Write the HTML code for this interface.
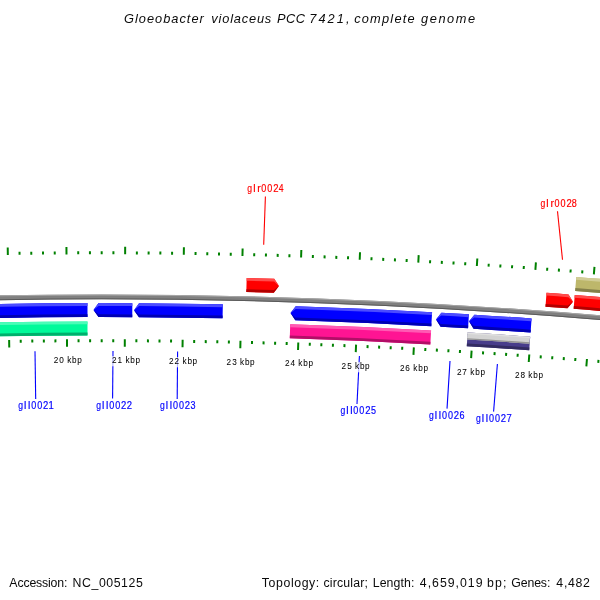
<!DOCTYPE html>
<html><head><meta charset="utf-8"><title>Gloeobacter violaceus PCC 7421</title>
<style>
html,body{margin:0;padding:0;background:#ffffff;}
body{width:600px;height:600px;overflow:hidden;font-family:"Liberation Sans",sans-serif;}
svg{display:block;font-family:"Liberation Sans",sans-serif;will-change:transform;}
</style></head><body>
<svg width="600" height="600" viewBox="0 0 600 600">
<rect x="0" y="0" width="600" height="600" fill="#ffffff"/>
<path d="M -20.05 295.73 A 6014.50 6014.50 0 0 1 620.21 316.91 L 619.79 321.69 A 6009.70 6009.70 0 0 0 -19.95 300.53 Z" fill="#808080"/>
<path d="M -20.05 295.73 A 6014.50 6014.50 0 0 1 620.21 316.91 L 620.12 317.87 A 6013.54 6013.54 0 0 0 -20.03 296.69 Z" fill="#a6a6a6"/>
<path d="M -19.97 299.57 A 6010.66 6010.66 0 0 1 619.88 320.73 L 619.79 321.69 A 6009.70 6009.70 0 0 0 -19.95 300.53 Z" fill="#5a5a5a"/>
<path d="M -20.14 304.33 A 6005.90 6005.90 0 0 1 87.48 303.12 L 87.52 317.12 A 5991.90 5991.90 0 0 0 -19.86 318.33 Z" fill="#0000ff"/>
<path d="M -20.14 304.33 A 6005.90 6005.90 0 0 1 87.48 303.12 L 87.49 305.92 A 6003.10 6003.10 0 0 0 -20.09 307.13 Z" fill="#4c4cff"/>
<path d="M -19.91 315.53 A 5994.70 5994.70 0 0 1 87.51 314.32 L 87.52 317.12 A 5991.90 5991.90 0 0 0 -19.86 318.33 Z" fill="#0000b2"/>
<path d="M 93.50 310.11 L 98.50 303.10 A 6005.90 6005.90 0 0 1 132.34 303.18 L 132.26 317.18 A 5991.90 5991.90 0 0 0 98.50 317.10 Z" fill="#0000ff"/>
<path d="M 93.50 310.11 L 98.50 303.10 A 6005.90 6005.90 0 0 1 132.34 303.18 L 132.32 305.98 A 6003.10 6003.10 0 0 0 98.50 305.90 Z" fill="#4c4cff"/>
<path d="M 93.50 310.11 L 98.50 314.30 A 5994.70 5994.70 0 0 1 132.28 314.38 L 132.26 317.18 A 5991.90 5991.90 0 0 0 98.50 317.10 Z" fill="#0000b2"/>
<path d="M 134.00 310.19 L 139.04 303.22 A 6005.90 6005.90 0 0 1 222.84 304.33 L 222.56 318.32 A 5991.90 5991.90 0 0 0 138.96 317.22 Z" fill="#0000ff"/>
<path d="M 134.00 310.19 L 139.04 303.22 A 6005.90 6005.90 0 0 1 222.84 304.33 L 222.78 307.13 A 6003.10 6003.10 0 0 0 139.03 306.02 Z" fill="#4c4cff"/>
<path d="M 134.00 310.19 L 138.97 314.42 A 5994.70 5994.70 0 0 1 222.62 315.52 L 222.56 318.32 A 5991.90 5991.90 0 0 0 138.96 317.22 Z" fill="#0000b2"/>
<path d="M 290.50 313.08 L 295.73 306.24 A 6005.90 6005.90 0 0 1 432.09 312.21 L 431.31 326.18 A 5991.90 5991.90 0 0 0 295.27 320.23 Z" fill="#0000ff"/>
<path d="M 290.50 313.08 L 295.73 306.24 A 6005.90 6005.90 0 0 1 432.09 312.21 L 431.93 315.00 A 6003.10 6003.10 0 0 0 295.64 309.04 Z" fill="#4c4cff"/>
<path d="M 290.50 313.08 L 295.36 317.44 A 5994.70 5994.70 0 0 1 431.47 323.39 L 431.31 326.18 A 5991.90 5991.90 0 0 0 295.27 320.23 Z" fill="#0000b2"/>
<path d="M 436.00 319.43 L 441.40 312.73 A 6005.90 6005.90 0 0 1 468.93 314.35 L 468.07 328.32 A 5991.90 5991.90 0 0 0 440.60 326.70 Z" fill="#0000ff"/>
<path d="M 436.00 319.43 L 441.40 312.73 A 6005.90 6005.90 0 0 1 468.93 314.35 L 468.76 317.14 A 6003.10 6003.10 0 0 0 441.24 315.52 Z" fill="#4c4cff"/>
<path d="M 436.00 319.43 L 440.76 323.91 A 5994.70 5994.70 0 0 1 468.24 325.53 L 468.07 328.32 A 5991.90 5991.90 0 0 0 440.60 326.70 Z" fill="#0000b2"/>
<path d="M 469.00 321.37 L 474.43 314.69 A 6005.90 6005.90 0 0 1 531.60 318.52 L 530.60 332.48 A 5991.90 5991.90 0 0 0 473.57 328.66 Z" fill="#0000ff"/>
<path d="M 469.00 321.37 L 474.43 314.69 A 6005.90 6005.90 0 0 1 531.60 318.52 L 531.40 321.31 A 6003.10 6003.10 0 0 0 474.26 317.48 Z" fill="#4c4cff"/>
<path d="M 469.00 321.37 L 473.74 325.87 A 5994.70 5994.70 0 0 1 530.80 329.69 L 530.60 332.48 A 5991.90 5991.90 0 0 0 473.57 328.66 Z" fill="#0000b2"/>
<path d="M -20.14 322.64 A 5987.60 5987.60 0 0 1 87.48 321.42 L 87.52 335.42 A 5973.60 5973.60 0 0 0 -19.86 336.63 Z" fill="#00fa9a"/>
<path d="M -20.14 322.64 A 5987.60 5987.60 0 0 1 87.48 321.42 L 87.49 324.22 A 5984.80 5984.80 0 0 0 -20.09 325.44 Z" fill="#4cfcb8"/>
<path d="M -19.91 333.83 A 5976.40 5976.40 0 0 1 87.51 332.62 L 87.52 335.42 A 5973.60 5973.60 0 0 0 -19.86 336.63 Z" fill="#00af6c"/>
<path d="M 290.22 324.37 A 5987.60 5987.60 0 0 1 431.09 330.48 L 430.31 344.46 A 5973.60 5973.60 0 0 0 289.78 338.37 Z" fill="#ff1493"/>
<path d="M 290.22 324.37 A 5987.60 5987.60 0 0 1 431.09 330.48 L 430.93 333.27 A 5984.80 5984.80 0 0 0 290.13 327.17 Z" fill="#ff5ab3"/>
<path d="M 289.87 335.57 A 5976.40 5976.40 0 0 1 430.47 341.66 L 430.31 344.46 A 5973.60 5973.60 0 0 0 289.78 338.37 Z" fill="#b20e67"/>
<path d="M 467.62 332.60 A 5987.60 5987.60 0 0 1 530.19 336.77 L 529.21 350.33 A 5974.00 5974.00 0 0 0 466.78 346.18 Z" fill="#483d8b"/>
<path d="M 467.62 332.60 A 5987.60 5987.60 0 0 1 530.19 336.77 L 529.99 339.48 A 5984.88 5984.88 0 0 0 467.45 335.32 Z" fill="#7f77ae"/>
<path d="M 466.95 343.46 A 5976.72 5976.72 0 0 1 529.41 347.62 L 529.21 350.33 A 5974.00 5974.00 0 0 0 466.78 346.18 Z" fill="#322b61"/>
<path d="M 467.41 332.59 A 5987.60 5987.60 0 0 1 529.95 336.75 L 529.45 343.73 A 5980.60 5980.60 0 0 0 466.99 339.58 Z" fill="#d3d3d3"/>
<path d="M 467.41 332.59 A 5987.60 5987.60 0 0 1 529.95 336.75 L 529.85 338.15 A 5986.20 5986.20 0 0 0 467.33 333.99 Z" fill="#e0e0e0"/>
<path d="M 467.07 338.18 A 5982.00 5982.00 0 0 1 529.55 342.33 L 529.45 343.73 A 5980.60 5980.60 0 0 0 466.99 339.58 Z" fill="#949494"/>
<path d="M 246.67 278.05 A 6032.70 6032.70 0 0 1 274.20 278.77 L 279.00 285.91 L 273.80 292.77 A 6018.70 6018.70 0 0 0 246.33 292.04 Z" fill="#ff0000"/>
<path d="M 246.67 278.05 A 6032.70 6032.70 0 0 1 274.20 278.77 L 279.00 285.91 L 274.12 281.57 A 6029.90 6029.90 0 0 0 246.60 280.85 Z" fill="#ff4c4c"/>
<path d="M 246.40 289.24 A 6021.50 6021.50 0 0 1 273.88 289.97 L 279.00 285.91 L 273.80 292.77 A 6018.70 6018.70 0 0 0 246.33 292.04 Z" fill="#b20000"/>
<path d="M 546.52 292.74 A 6032.70 6032.70 0 0 1 568.54 294.41 L 573.00 301.78 L 567.46 308.36 A 6018.70 6018.70 0 0 0 545.48 306.70 Z" fill="#ff0000"/>
<path d="M 546.52 292.74 A 6032.70 6032.70 0 0 1 568.54 294.41 L 573.00 301.78 L 568.33 297.20 A 6029.90 6029.90 0 0 0 546.31 295.53 Z" fill="#ff4c4c"/>
<path d="M 545.69 303.91 A 6021.50 6021.50 0 0 1 567.67 305.57 L 573.00 301.78 L 567.46 308.36 A 6018.70 6018.70 0 0 0 545.48 306.70 Z" fill="#b20000"/>
<path d="M 574.75 294.89 A 6032.70 6032.70 0 0 1 620.60 298.68 L 619.40 312.62 A 6018.70 6018.70 0 0 0 573.65 308.85 Z" fill="#ff0000"/>
<path d="M 574.75 294.89 A 6032.70 6032.70 0 0 1 620.60 298.68 L 620.36 301.46 A 6029.90 6029.90 0 0 0 574.53 297.68 Z" fill="#ff4c4c"/>
<path d="M 573.87 306.06 A 6021.50 6021.50 0 0 1 619.64 309.83 L 619.40 312.62 A 6018.70 6018.70 0 0 0 573.65 308.85 Z" fill="#b20000"/>
<path d="M 576.25 276.95 A 6050.70 6050.70 0 0 1 620.60 280.61 L 619.40 294.56 A 6036.70 6036.70 0 0 0 575.15 290.91 Z" fill="#bdb76b"/>
<path d="M 576.25 276.95 A 6050.70 6050.70 0 0 1 620.60 280.61 L 620.36 283.40 A 6047.90 6047.90 0 0 0 576.03 279.74 Z" fill="#d1cd97"/>
<path d="M 575.37 288.12 A 6039.50 6039.50 0 0 1 619.64 291.77 L 619.40 294.56 A 6036.70 6036.70 0 0 0 575.15 290.91 Z" fill="#84804b"/>
<path d="M -50.81 256.22 L -51.00 248.72 M -48.68 341.09 L -48.49 348.59 M -39.09 255.93 L -39.16 252.93 M -37.11 340.81 L -37.04 343.81 M -27.36 255.67 L -27.42 252.67 M -25.55 340.55 L -25.49 343.55 M -15.63 255.43 L -15.69 252.43 M -13.99 340.32 L -13.93 343.32 M -3.90 255.22 L -3.95 252.22 M -2.42 340.10 L -2.37 343.10 M 7.83 255.02 L 7.72 247.53 M 9.14 339.91 L 9.26 347.41 M 19.56 254.85 L 19.52 251.85 M 20.71 339.75 L 20.75 342.75 M 31.29 254.71 L 31.26 251.71 M 32.28 339.60 L 32.31 342.60 M 43.02 254.58 L 42.99 251.58 M 43.84 339.48 L 43.87 342.48 M 54.75 254.48 L 54.73 251.48 M 55.41 339.38 L 55.43 342.38 M 66.49 254.40 L 66.44 246.90 M 66.98 339.30 L 67.02 346.80 M 78.22 254.34 L 78.21 251.34 M 78.54 339.24 L 78.56 342.24 M 89.95 254.31 L 89.94 251.31 M 90.11 339.21 L 90.12 342.21 M 101.68 254.30 L 101.68 251.30 M 101.68 339.20 L 101.68 342.20 M 113.41 254.31 L 113.42 251.31 M 113.24 339.21 L 113.24 342.21 M 125.14 254.35 L 125.17 246.85 M 124.81 339.25 L 124.78 346.75 M 136.87 254.40 L 136.89 251.40 M 136.38 339.30 L 136.36 342.30 M 148.61 254.48 L 148.63 251.48 M 147.95 339.38 L 147.92 342.38 M 160.34 254.59 L 160.37 251.59 M 159.51 339.48 L 159.48 342.48 M 172.07 254.71 L 172.10 251.71 M 171.08 339.61 L 171.04 342.61 M 183.80 254.86 L 183.90 247.36 M 182.64 339.75 L 182.54 347.25 M 195.53 255.03 L 195.58 252.03 M 194.21 339.92 L 194.16 342.92 M 207.26 255.22 L 207.31 252.22 M 205.78 340.11 L 205.72 343.11 M 218.99 255.44 L 219.05 252.44 M 217.34 340.32 L 217.28 343.32 M 230.72 255.68 L 230.78 252.68 M 228.91 340.56 L 228.84 343.56 M 242.45 255.94 L 242.62 248.44 M 240.47 340.82 L 240.30 348.32 M 254.17 256.23 L 254.25 253.23 M 252.03 341.10 L 251.96 344.10 M 265.90 256.53 L 265.98 253.53 M 263.60 341.40 L 263.52 344.40 M 277.63 256.86 L 277.72 253.86 M 275.16 341.73 L 275.07 344.73 M 289.36 257.21 L 289.45 254.22 M 286.72 342.07 L 286.63 345.07 M 301.08 257.59 L 301.33 250.09 M 298.28 342.44 L 298.04 349.94 M 312.81 257.99 L 312.91 254.99 M 309.84 342.84 L 309.74 345.83 M 324.53 258.41 L 324.64 255.41 M 321.40 343.25 L 321.29 346.25 M 336.25 258.85 L 336.37 255.85 M 332.96 343.69 L 332.85 346.69 M 347.98 259.32 L 348.10 256.32 M 344.52 344.15 L 344.40 347.15 M 359.70 259.81 L 360.02 252.31 M 356.08 344.63 L 355.76 352.12 M 371.42 260.32 L 371.55 257.32 M 367.63 345.14 L 367.50 348.13 M 383.14 260.85 L 383.28 257.86 M 379.19 345.66 L 379.05 348.66 M 394.86 261.41 L 395.00 258.41 M 390.74 346.21 L 390.60 349.21 M 406.57 261.99 L 406.72 258.99 M 402.29 346.78 L 402.14 349.78 M 418.29 262.59 L 418.68 255.10 M 413.85 347.38 L 413.45 354.87 M 430.00 263.22 L 430.17 260.22 M 425.40 347.99 L 425.23 350.99 M 441.72 263.87 L 441.89 260.87 M 436.95 348.63 L 436.78 351.63 M 453.43 264.54 L 453.60 261.54 M 448.49 349.29 L 448.32 352.29 M 465.14 265.23 L 465.32 262.24 M 460.04 349.98 L 459.86 352.97 M 476.85 265.95 L 477.32 258.46 M 471.59 350.68 L 471.12 358.17 M 488.56 266.68 L 488.75 263.69 M 483.13 351.41 L 482.94 354.40 M 500.27 267.45 L 500.46 264.45 M 494.67 352.16 L 494.48 355.15 M 511.97 268.23 L 512.17 265.24 M 506.22 352.93 L 506.01 355.93 M 523.67 269.04 L 523.88 266.04 M 517.75 353.73 L 517.55 356.72 M 535.38 269.87 L 535.91 262.38 M 529.29 354.55 L 528.76 362.03 M 547.08 270.72 L 547.30 267.73 M 540.83 355.39 L 540.61 358.38 M 558.78 271.59 L 559.00 268.60 M 552.36 356.25 L 552.14 359.24 M 570.47 272.49 L 570.71 269.50 M 563.90 357.13 L 563.67 360.13 M 582.17 273.41 L 582.41 270.42 M 575.43 358.04 L 575.19 361.03 M 593.86 274.35 L 594.47 266.88 M 586.96 358.97 L 586.35 366.45 M 605.55 275.32 L 605.80 272.33 M 598.49 359.92 L 598.24 362.91 M 617.24 276.31 L 617.50 273.32 M 610.01 360.90 L 609.76 363.89 M 628.93 277.32 L 629.19 274.33 M 621.54 361.89 L 621.28 364.88 M 640.62 278.35 L 640.89 275.36 M 633.06 362.91 L 632.79 365.90 M 652.30 279.41 L 652.98 271.94 M 644.58 363.95 L 643.90 371.42" stroke="#008000" stroke-width="2" fill="none"/>
<line x1="265.4" y1="196.5" x2="263.7" y2="244.7" stroke="#ff0000" stroke-width="1.1"/>
<line x1="557.5" y1="211.3" x2="562.5" y2="259.7" stroke="#ff0000" stroke-width="1.1"/>
<line x1="35" y1="351.3" x2="35.7" y2="399" stroke="#0000ff" stroke-width="1.1"/>
<line x1="113" y1="351" x2="112.6" y2="398.6" stroke="#0000ff" stroke-width="1.1"/>
<line x1="177.6" y1="351.4" x2="177.2" y2="399" stroke="#0000ff" stroke-width="1.1"/>
<line x1="359.4" y1="356" x2="357" y2="404" stroke="#0000ff" stroke-width="1.1"/>
<line x1="450" y1="361" x2="447" y2="408.6" stroke="#0000ff" stroke-width="1.1"/>
<line x1="497.4" y1="364" x2="493.6" y2="411.6" stroke="#0000ff" stroke-width="1.1"/>
<text transform="translate(247.19,192.00) scale(0.821,1)" font-size="10.5" fill="#ff0000" stroke="#ff0000" stroke-width="0.18">g</text>
<text transform="translate(253.15,192.00) scale(1.000,1)" font-size="10.5" fill="#ff0000" stroke="#ff0000" stroke-width="0.18">l</text>
<text transform="translate(257.20,192.00) scale(1.000,1)" font-size="10.5" fill="#ff0000" stroke="#ff0000" stroke-width="0.18">r</text>
<text transform="translate(261.22,192.00) scale(0.860,1)" font-size="10.5" fill="#ff0000" stroke="#ff0000" stroke-width="0.18">0</text>
<text transform="translate(267.27,192.00) scale(0.860,1)" font-size="10.5" fill="#ff0000" stroke="#ff0000" stroke-width="0.18">0</text>
<text transform="translate(273.20,192.00) scale(0.905,1)" font-size="10.5" fill="#ff0000" stroke="#ff0000" stroke-width="0.18">2</text>
<text transform="translate(278.85,192.00) scale(0.819,1)" font-size="10.5" fill="#ff0000" stroke="#ff0000" stroke-width="0.18">4</text>
<text transform="translate(540.39,207.00) scale(0.821,1)" font-size="10.5" fill="#ff0000" stroke="#ff0000" stroke-width="0.18">g</text>
<text transform="translate(546.35,207.00) scale(1.000,1)" font-size="10.5" fill="#ff0000" stroke="#ff0000" stroke-width="0.18">l</text>
<text transform="translate(550.40,207.00) scale(1.000,1)" font-size="10.5" fill="#ff0000" stroke="#ff0000" stroke-width="0.18">r</text>
<text transform="translate(554.42,207.00) scale(0.860,1)" font-size="10.5" fill="#ff0000" stroke="#ff0000" stroke-width="0.18">0</text>
<text transform="translate(560.47,207.00) scale(0.860,1)" font-size="10.5" fill="#ff0000" stroke="#ff0000" stroke-width="0.18">0</text>
<text transform="translate(566.40,207.00) scale(0.905,1)" font-size="10.5" fill="#ff0000" stroke="#ff0000" stroke-width="0.18">2</text>
<text transform="translate(571.82,207.00) scale(0.860,1)" font-size="10.5" fill="#ff0000" stroke="#ff0000" stroke-width="0.18">8</text>
<text transform="translate(18.29,409.00) scale(0.821,1)" font-size="10.5" fill="#0000ff" stroke="#0000ff" stroke-width="0.18">g</text>
<text transform="translate(24.05,409.00) scale(1.000,1)" font-size="10.5" fill="#0000ff" stroke="#0000ff" stroke-width="0.18">l</text>
<text transform="translate(27.95,409.00) scale(1.000,1)" font-size="10.5" fill="#0000ff" stroke="#0000ff" stroke-width="0.18">l</text>
<text transform="translate(31.17,409.00) scale(0.860,1)" font-size="10.5" fill="#0000ff" stroke="#0000ff" stroke-width="0.18">0</text>
<text transform="translate(37.17,409.00) scale(0.860,1)" font-size="10.5" fill="#0000ff" stroke="#0000ff" stroke-width="0.18">0</text>
<text transform="translate(43.00,409.00) scale(0.905,1)" font-size="10.5" fill="#0000ff" stroke="#0000ff" stroke-width="0.18">2</text>
<text transform="translate(48.47,409.00) scale(0.905,1)" font-size="10.5" fill="#0000ff" stroke="#0000ff" stroke-width="0.18">1</text>
<text transform="translate(96.29,409.00) scale(0.821,1)" font-size="10.5" fill="#0000ff" stroke="#0000ff" stroke-width="0.18">g</text>
<text transform="translate(102.05,409.00) scale(1.000,1)" font-size="10.5" fill="#0000ff" stroke="#0000ff" stroke-width="0.18">l</text>
<text transform="translate(105.95,409.00) scale(1.000,1)" font-size="10.5" fill="#0000ff" stroke="#0000ff" stroke-width="0.18">l</text>
<text transform="translate(109.17,409.00) scale(0.860,1)" font-size="10.5" fill="#0000ff" stroke="#0000ff" stroke-width="0.18">0</text>
<text transform="translate(115.17,409.00) scale(0.860,1)" font-size="10.5" fill="#0000ff" stroke="#0000ff" stroke-width="0.18">0</text>
<text transform="translate(121.00,409.00) scale(0.905,1)" font-size="10.5" fill="#0000ff" stroke="#0000ff" stroke-width="0.18">2</text>
<text transform="translate(126.70,409.00) scale(0.905,1)" font-size="10.5" fill="#0000ff" stroke="#0000ff" stroke-width="0.18">2</text>
<text transform="translate(160.09,409.00) scale(0.821,1)" font-size="10.5" fill="#0000ff" stroke="#0000ff" stroke-width="0.18">g</text>
<text transform="translate(165.85,409.00) scale(1.000,1)" font-size="10.5" fill="#0000ff" stroke="#0000ff" stroke-width="0.18">l</text>
<text transform="translate(169.75,409.00) scale(1.000,1)" font-size="10.5" fill="#0000ff" stroke="#0000ff" stroke-width="0.18">l</text>
<text transform="translate(172.97,409.00) scale(0.860,1)" font-size="10.5" fill="#0000ff" stroke="#0000ff" stroke-width="0.18">0</text>
<text transform="translate(178.97,409.00) scale(0.860,1)" font-size="10.5" fill="#0000ff" stroke="#0000ff" stroke-width="0.18">0</text>
<text transform="translate(184.80,409.00) scale(0.905,1)" font-size="10.5" fill="#0000ff" stroke="#0000ff" stroke-width="0.18">2</text>
<text transform="translate(190.52,409.00) scale(0.860,1)" font-size="10.5" fill="#0000ff" stroke="#0000ff" stroke-width="0.18">3</text>
<text transform="translate(340.49,414.00) scale(0.821,1)" font-size="10.5" fill="#0000ff" stroke="#0000ff" stroke-width="0.18">g</text>
<text transform="translate(346.25,414.00) scale(1.000,1)" font-size="10.5" fill="#0000ff" stroke="#0000ff" stroke-width="0.18">l</text>
<text transform="translate(350.15,414.00) scale(1.000,1)" font-size="10.5" fill="#0000ff" stroke="#0000ff" stroke-width="0.18">l</text>
<text transform="translate(353.37,414.00) scale(0.860,1)" font-size="10.5" fill="#0000ff" stroke="#0000ff" stroke-width="0.18">0</text>
<text transform="translate(359.37,414.00) scale(0.860,1)" font-size="10.5" fill="#0000ff" stroke="#0000ff" stroke-width="0.18">0</text>
<text transform="translate(365.20,414.00) scale(0.905,1)" font-size="10.5" fill="#0000ff" stroke="#0000ff" stroke-width="0.18">2</text>
<text transform="translate(370.92,414.00) scale(0.860,1)" font-size="10.5" fill="#0000ff" stroke="#0000ff" stroke-width="0.18">5</text>
<text transform="translate(429.09,419.00) scale(0.821,1)" font-size="10.5" fill="#0000ff" stroke="#0000ff" stroke-width="0.18">g</text>
<text transform="translate(434.85,419.00) scale(1.000,1)" font-size="10.5" fill="#0000ff" stroke="#0000ff" stroke-width="0.18">l</text>
<text transform="translate(438.75,419.00) scale(1.000,1)" font-size="10.5" fill="#0000ff" stroke="#0000ff" stroke-width="0.18">l</text>
<text transform="translate(441.97,419.00) scale(0.860,1)" font-size="10.5" fill="#0000ff" stroke="#0000ff" stroke-width="0.18">0</text>
<text transform="translate(447.97,419.00) scale(0.860,1)" font-size="10.5" fill="#0000ff" stroke="#0000ff" stroke-width="0.18">0</text>
<text transform="translate(453.80,419.00) scale(0.905,1)" font-size="10.5" fill="#0000ff" stroke="#0000ff" stroke-width="0.18">2</text>
<text transform="translate(459.52,419.00) scale(0.860,1)" font-size="10.5" fill="#0000ff" stroke="#0000ff" stroke-width="0.18">6</text>
<text transform="translate(476.09,422.00) scale(0.821,1)" font-size="10.5" fill="#0000ff" stroke="#0000ff" stroke-width="0.18">g</text>
<text transform="translate(481.85,422.00) scale(1.000,1)" font-size="10.5" fill="#0000ff" stroke="#0000ff" stroke-width="0.18">l</text>
<text transform="translate(485.75,422.00) scale(1.000,1)" font-size="10.5" fill="#0000ff" stroke="#0000ff" stroke-width="0.18">l</text>
<text transform="translate(488.97,422.00) scale(0.860,1)" font-size="10.5" fill="#0000ff" stroke="#0000ff" stroke-width="0.18">0</text>
<text transform="translate(494.97,422.00) scale(0.860,1)" font-size="10.5" fill="#0000ff" stroke="#0000ff" stroke-width="0.18">0</text>
<text transform="translate(500.80,422.00) scale(0.905,1)" font-size="10.5" fill="#0000ff" stroke="#0000ff" stroke-width="0.18">2</text>
<text transform="translate(506.50,422.00) scale(0.905,1)" font-size="10.5" fill="#0000ff" stroke="#0000ff" stroke-width="0.18">7</text>
<rect x="53.0" y="356.1" width="30" height="10.2" fill="#ffffff" fill-opacity="0.7"/>
<text x="53.68" y="363" font-size="8.2" fill="#000" stroke="#000" stroke-width="0.04">2</text>
<text x="59.25" y="363" font-size="8.2" fill="#000" stroke="#000" stroke-width="0.04">0</text>
<text x="67.15" y="363" font-size="8.2" fill="#000" stroke="#000" stroke-width="0.04">k</text>
<text x="72.03" y="363" font-size="8.2" fill="#000" stroke="#000" stroke-width="0.04">b</text>
<text x="77.22" y="363" font-size="8.2" fill="#000" stroke="#000" stroke-width="0.04">p</text>
<rect x="111.3" y="356.1" width="30" height="10.2" fill="#ffffff" fill-opacity="0.7"/>
<text x="111.97" y="363" font-size="8.2" fill="#000" stroke="#000" stroke-width="0.04">2</text>
<text x="117.42" y="363" font-size="8.2" fill="#000" stroke="#000" stroke-width="0.04">1</text>
<text x="125.45" y="363" font-size="8.2" fill="#000" stroke="#000" stroke-width="0.04">k</text>
<text x="130.32" y="363" font-size="8.2" fill="#000" stroke="#000" stroke-width="0.04">b</text>
<text x="135.53" y="363" font-size="8.2" fill="#000" stroke="#000" stroke-width="0.04">p</text>
<rect x="168.4" y="357.1" width="30" height="10.2" fill="#ffffff" fill-opacity="0.7"/>
<text x="169.07" y="364" font-size="8.2" fill="#000" stroke="#000" stroke-width="0.04">2</text>
<text x="174.53" y="364" font-size="8.2" fill="#000" stroke="#000" stroke-width="0.04">2</text>
<text x="182.55" y="364" font-size="8.2" fill="#000" stroke="#000" stroke-width="0.04">k</text>
<text x="187.42" y="364" font-size="8.2" fill="#000" stroke="#000" stroke-width="0.04">b</text>
<text x="192.62" y="364" font-size="8.2" fill="#000" stroke="#000" stroke-width="0.04">p</text>
<rect x="225.9" y="358.1" width="30" height="10.2" fill="#ffffff" fill-opacity="0.7"/>
<text x="226.57" y="365" font-size="8.2" fill="#000" stroke="#000" stroke-width="0.04">2</text>
<text x="232.15" y="365" font-size="8.2" fill="#000" stroke="#000" stroke-width="0.04">3</text>
<text x="240.05" y="365" font-size="8.2" fill="#000" stroke="#000" stroke-width="0.04">k</text>
<text x="244.92" y="365" font-size="8.2" fill="#000" stroke="#000" stroke-width="0.04">b</text>
<text x="250.12" y="365" font-size="8.2" fill="#000" stroke="#000" stroke-width="0.04">p</text>
<rect x="284.2" y="359.1" width="30" height="10.2" fill="#ffffff" fill-opacity="0.7"/>
<text x="284.88" y="366" font-size="8.2" fill="#000" stroke="#000" stroke-width="0.04">2</text>
<text x="290.45" y="366" font-size="8.2" fill="#000" stroke="#000" stroke-width="0.04">4</text>
<text x="298.35" y="366" font-size="8.2" fill="#000" stroke="#000" stroke-width="0.04">k</text>
<text x="303.22" y="366" font-size="8.2" fill="#000" stroke="#000" stroke-width="0.04">b</text>
<text x="308.42" y="366" font-size="8.2" fill="#000" stroke="#000" stroke-width="0.04">p</text>
<rect x="340.9" y="362.1" width="30" height="10.2" fill="#ffffff" fill-opacity="0.7"/>
<text x="341.58" y="369" font-size="8.2" fill="#000" stroke="#000" stroke-width="0.04">2</text>
<text x="347.15" y="369" font-size="8.2" fill="#000" stroke="#000" stroke-width="0.04">5</text>
<text x="355.05" y="369" font-size="8.2" fill="#000" stroke="#000" stroke-width="0.04">k</text>
<text x="359.93" y="369" font-size="8.2" fill="#000" stroke="#000" stroke-width="0.04">b</text>
<text x="365.12" y="369" font-size="8.2" fill="#000" stroke="#000" stroke-width="0.04">p</text>
<rect x="399.2" y="364.1" width="30" height="10.2" fill="#ffffff" fill-opacity="0.7"/>
<text x="399.88" y="371" font-size="8.2" fill="#000" stroke="#000" stroke-width="0.04">2</text>
<text x="405.32" y="371" font-size="8.2" fill="#000" stroke="#000" stroke-width="0.04">6</text>
<text x="413.35" y="371" font-size="8.2" fill="#000" stroke="#000" stroke-width="0.04">k</text>
<text x="418.22" y="371" font-size="8.2" fill="#000" stroke="#000" stroke-width="0.04">b</text>
<text x="423.42" y="371" font-size="8.2" fill="#000" stroke="#000" stroke-width="0.04">p</text>
<rect x="456.2" y="368.1" width="30" height="10.2" fill="#ffffff" fill-opacity="0.7"/>
<text x="456.88" y="375" font-size="8.2" fill="#000" stroke="#000" stroke-width="0.04">2</text>
<text x="462.32" y="375" font-size="8.2" fill="#000" stroke="#000" stroke-width="0.04">7</text>
<text x="470.35" y="375" font-size="8.2" fill="#000" stroke="#000" stroke-width="0.04">k</text>
<text x="475.22" y="375" font-size="8.2" fill="#000" stroke="#000" stroke-width="0.04">b</text>
<text x="480.42" y="375" font-size="8.2" fill="#000" stroke="#000" stroke-width="0.04">p</text>
<rect x="514.2" y="371.1" width="30" height="10.2" fill="#ffffff" fill-opacity="0.7"/>
<text x="514.88" y="378" font-size="8.2" fill="#000" stroke="#000" stroke-width="0.04">2</text>
<text x="520.45" y="378" font-size="8.2" fill="#000" stroke="#000" stroke-width="0.04">8</text>
<text x="528.35" y="378" font-size="8.2" fill="#000" stroke="#000" stroke-width="0.04">k</text>
<text x="533.23" y="378" font-size="8.2" fill="#000" stroke="#000" stroke-width="0.04">b</text>
<text x="538.42" y="378" font-size="8.2" fill="#000" stroke="#000" stroke-width="0.04">p</text>
<text x="123.94" y="23.00" textLength="79.89" lengthAdjust="spacing" font-size="12.8" fill="#0a0a0a" font-style="italic">Gloeobacter</text>
<text x="211.30" y="23.00" textLength="59.94" lengthAdjust="spacing" font-size="12.8" fill="#0a0a0a" font-style="italic">violaceus</text>
<text x="277.11" y="23.00" textLength="27.97" lengthAdjust="spacing" font-size="12.8" fill="#0a0a0a" font-style="italic">PCC</text>
<text x="309.22" y="23.00" textLength="40.28" lengthAdjust="spacing" font-size="12.8" fill="#0a0a0a" font-style="italic">7421,</text>
<text x="354.15" y="23.00" textLength="60.50" lengthAdjust="spacing" font-size="12.8" fill="#0a0a0a" font-style="italic">complete</text>
<text x="421.06" y="23.00" textLength="54.11" lengthAdjust="spacing" font-size="12.8" fill="#0a0a0a" font-style="italic">genome</text>
<text x="9.37" y="587.00" textLength="58.03" lengthAdjust="spacing" font-size="12.3" fill="#0a0a0a">Accession:</text>
<text x="72.62" y="587.00" textLength="70.13" lengthAdjust="spacing" font-size="12.3" fill="#0a0a0a">NC_005125</text>
<text x="261.85" y="587.00" textLength="57.44" lengthAdjust="spacing" font-size="12.3" fill="#0a0a0a">Topology:</text>
<text x="323.55" y="587.00" textLength="44.36" lengthAdjust="spacing" font-size="12.3" fill="#0a0a0a">circular;</text>
<text x="372.72" y="587.00" textLength="41.58" lengthAdjust="spacing" font-size="12.3" fill="#0a0a0a">Length:</text>
<text x="419.85" y="587.00" textLength="62.63" lengthAdjust="spacing" font-size="12.3" fill="#0a0a0a">4,659,019</text>
<text x="487.07" y="587.00" textLength="19.32" lengthAdjust="spacing" font-size="12.3" fill="#0a0a0a">bp;</text>
<text x="511.24" y="587.00" textLength="39.06" lengthAdjust="spacing" font-size="12.3" fill="#0a0a0a">Genes:</text>
<text x="556.35" y="587.00" textLength="33.60" lengthAdjust="spacing" font-size="12.3" fill="#0a0a0a">4,482</text>
</svg>
</body></html>
